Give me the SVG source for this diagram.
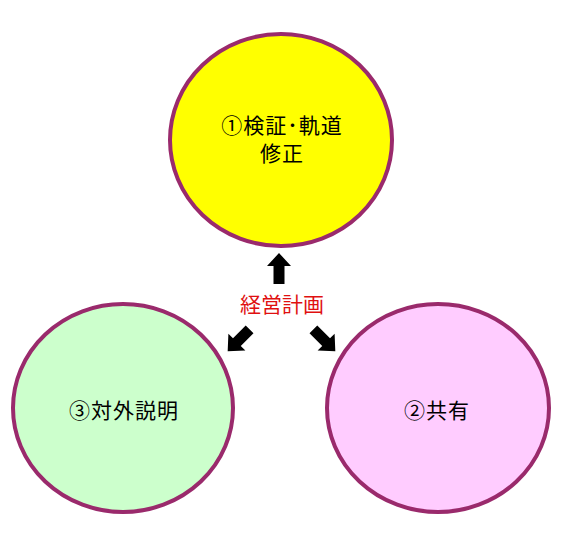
<svg xmlns="http://www.w3.org/2000/svg" width="567" height="541" viewBox="0 0 567 541">
<style>
.node{stroke:#9a2a6c;stroke-width:4}
.lbl{font-family:"Noto Sans CJK JP","Liberation Sans",sans-serif;font-size:21px;fill:#000;text-anchor:middle;letter-spacing:1px}
.key{font-family:"Noto Sans CJK JP","Liberation Sans",sans-serif;font-size:21px;fill:#e01010;text-anchor:middle}
.arr{fill:#000}
</style>
<defs>
<polygon id="blk" points="0,-16 12,-3 5.5,-3 5.5,15 -5.5,15 -5.5,-3 -12,-3"/>
</defs>
<rect width="567" height="541" fill="#fff"/>
<g id="node1">
<ellipse class="node" cx="281" cy="140" rx="111" ry="106" fill="#ffff00"/>
<text class="lbl" x="282" y="133">①検証･軌道</text>
<text class="lbl" x="282" y="161">修正</text>
</g>
<g id="node2">
<ellipse class="node" cx="438" cy="408" rx="111" ry="104" fill="#ffccff"/>
<text class="lbl" x="437" y="418">②共有</text>
</g>
<g id="node3">
<ellipse class="node" cx="123" cy="408" rx="110" ry="104" fill="#ccffcc"/>
<text class="lbl" x="124" y="418">③対外説明</text>
</g>
<g id="center">
<text class="key" x="282" y="312">経営計画</text>
</g>
<g id="connectors" class="arr">
<use href="#blk" transform="translate(279,269)"/>
<use href="#blk" transform="translate(239,340) rotate(-135)"/>
<use href="#blk" transform="translate(324,340) rotate(135)"/>
</g>
</svg>
